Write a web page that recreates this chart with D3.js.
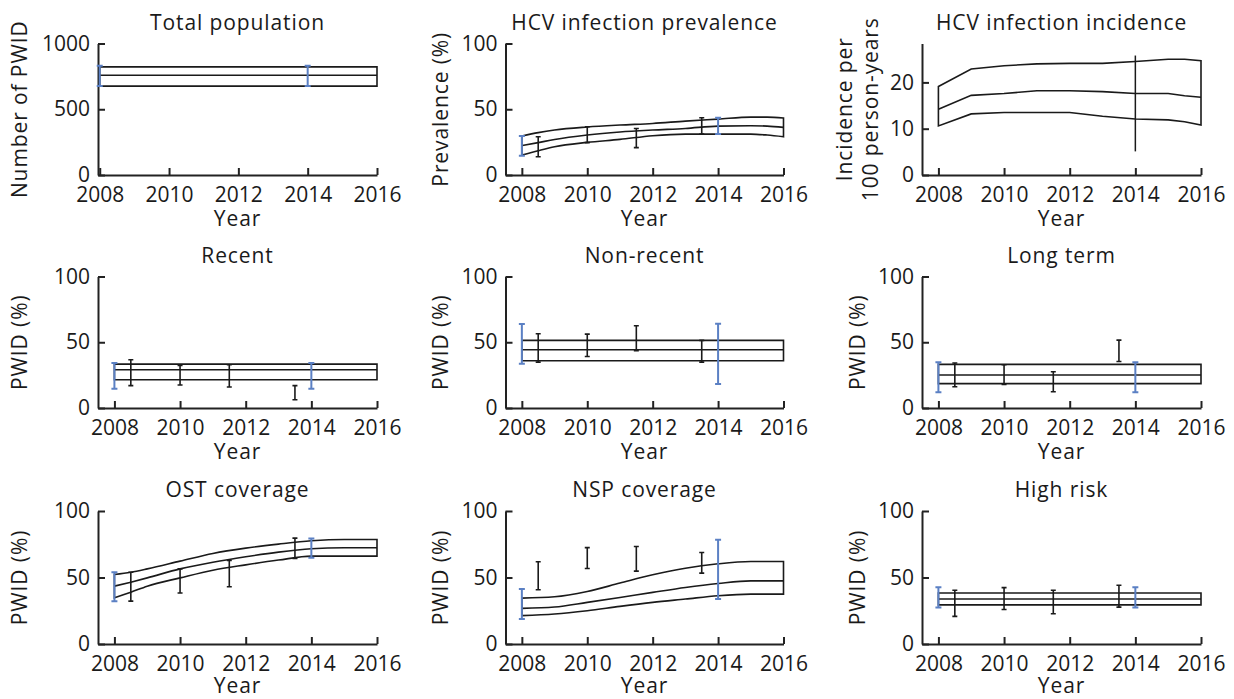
<!DOCTYPE html>
<html>
<head>
<meta charset="utf-8">
<script src="https://cdn.jsdelivr.net/npm/d3@7"></script>
<style>
  body { margin: 0; background: #fff; }
  svg text { font-family: "Open Sans", "Noto Sans", sans-serif; fill: #1a1a1a; }
  .axis path, .axis line { stroke: #222; stroke-width: 2px; }
  .axis text { font-size: 21px; }
  .label { font-size: 21px; letter-spacing: 0.9px; }
</style>
</head>
<body>
<svg id="chart" width="1234" height="699"></svg>
<script>
// tick labels
var tickYears = [2008, 2010, 2012, 2014, 2016];
var pctTicks = [0, 50, 100];

// titles / axis labels, one per panel
var titles = ['Total population', 'HCV infection prevalence', 'HCV infection incidence',
  'Recent', 'Non-recent', 'Long term', 'OST coverage', 'NSP coverage', 'High risk'];
var yLabels = [['Number of PWID'], ['Prevalence (%)'], ['Incidence per', '100 person-years'],
  ['PWID (%)'], ['PWID (%)'], ['PWID (%)'], ['PWID (%)'], ['PWID (%)'], ['PWID (%)']];

// years where the black data points and the blue calibration points sit
var obsYears = [2008.5, 2010, 2011.5, 2013.5];
var fitYears = [2008, 2014];
var flatYears = [2008, 2016];

// Total population
var popLow = [676, 676], popMid = [759, 759], popHigh = [822, 822];
var popFitLow = [676, 676], popFitHigh = [830, 830];

// HCV prevalence
var prevYears = [2008, 2008.5, 2009, 2010, 2011, 2012, 2013, 2014, 2015, 2015.5, 2016];
var prevHigh = [29.6, 32.2, 34.2, 36.5, 38, 39.2, 41, 42.5, 44, 44, 43.3];
var prevMid = [22.3, 24.6, 27, 30.4, 32.7, 34.2, 35.4, 37.2, 37.5, 37.2, 36.2];
var prevLow = [15.2, 18.5, 21.5, 24.8, 27.1, 29.9, 31.1, 31.1, 31.1, 30.4, 29.1];
var prevObsLow = [13.9, 24.6, 20.8, 31.1], prevObsHigh = [29.1, 36.7, 35.4, 43.5];
var prevFitLow = [14.7, 31.1], prevFitHigh = [29.6, 43.5];

// HCV incidence
var incYears = [2008, 2009, 2010, 2011, 2012, 2013, 2014, 2015, 2015.5, 2016];
var incHigh = [19.1, 22.9, 23.6, 24, 24.1, 24.1, 24.5, 25, 25, 24.7];
var incMid = [14.2, 17.2, 17.6, 18.2, 18.2, 18, 17.6, 17.6, 17.1, 16.8];
var incLow = [10.6, 13.2, 13.5, 13.5, 13.5, 12.7, 12.1, 11.9, 11.5, 10.8];
var incRangeYears = [2014], incRangeLow = [5.1], incRangeHigh = [25.8];

// Recent
var recLow = [21.5, 21.5], recMid = [29.1, 29.1], recHigh = [33.4, 33.4];
var recObsLow = [17, 17.5, 16, 6.3], recObsHigh = [36.7, 32.4, 32.9, 17];
var recFitLow = [14.7, 14.7], recFitHigh = [34.2, 34.2];

// Non-recent
var nonLow = [35.9, 35.9], nonMid = [44.3, 44.3], nonHigh = [51.4, 51.4];
var nonObsLow = [34.9, 39.2, 43.5, 34.9], nonObsHigh = [56.5, 56.2, 62.5, 51.4];
var nonFitLow = [33.7, 18.2], nonFitHigh = [63.8, 64];

// Long term
var ltLow = [18.5, 18.5], ltMid = [25.1, 25.1], ltHigh = [33.2, 33.2];
var ltObsLow = [16.2, 18, 12.4, 35.4], ltObsHigh = [34.2, 32.9, 27.6, 51.6];
var ltFitLow = [11.9, 11.9], ltFitHigh = [34.7, 34.7];

// OST coverage
var ostYears = [2008, 2008.5, 2009, 2010, 2011, 2012, 2013, 2014, 2015, 2016];
var ostHigh = [52.3, 54, 56.5, 62.3, 68.1, 72.1, 75.1, 77.6, 78.6, 78.6];
var ostMid = [43.5, 46.5, 49.7, 56.5, 61.5, 65.6, 69.1, 71.6, 72.4, 72.4];
var ostLow = [34.7, 38.9, 43.5, 49.7, 55.5, 59.5, 63.1, 66.1, 66.1, 66.1];
var ostObsLow = [32.2, 38.4, 43, 64.3], ostObsHigh = [54, 56.5, 62.8, 79.6];
var ostFitLow = [32.2, 64.8], ostFitHigh = [54, 79.4];

// NSP coverage
var nspYears = [2008, 2009, 2010, 2011, 2012, 2013, 2014, 2015, 2016];
var nspHigh = [34.5, 35.5, 39.5, 45.8, 52, 57, 60.3, 62, 62];
var nspMid = [26.8, 27.8, 31.3, 35, 38.8, 42.5, 45.5, 47.5, 47.5];
var nspLow = [21.3, 22.5, 25, 28.3, 31.3, 33.8, 36.3, 37.5, 37.5];
var nspObsLow = [40.8, 56.8, 54.8, 53.3], nspObsHigh = [61.8, 72.5, 73.3, 68.8];
var nspFitLow = [18.8, 33.8], nspFitHigh = [41.3, 78.3];

// High risk
var hrLow = [29.4, 29.4], hrMid = [33.8, 33.8], hrHigh = [38.3, 38.3];
var hrObsLow = [20.8, 25.9, 22.8, 27.7], hrObsHigh = [40.4, 42.4, 40.4, 44.2];
var hrFitLow = [27.4, 27.4], hrFitHigh = [42.6, 42.6];

(function(){
  'use strict';

  var svg = d3.select('#chart');

  // plot boxes, pixel layout of the 3x3 grid
  var cols = [[98, 377], [505.5, 783.5], [922, 1201]],
      rows = [[43.5, 175], [276.5, 408], [511, 644]],
      labelX = [19, 440, 857],
      yearDy = [51, 51, 49]; // last row sits on the page edge

  function band(years, low, mid, high) {
    return years.map(function(yr, i){ return {x: yr, lo: low[i], mid: mid[i], hi: high[i]}; });
  }
  function bars(years, low, high) {
    return years.map(function(yr, i){ return {x: yr, lo: low[i], hi: high[i]}; });
  }

  var panels = [
    {xStart: 2007.95, yDomain: [0, 1000], yTicks: [0, 500, 1000],
      band: band(flatYears, popLow, popMid, popHigh), obs: [], fit: bars(fitYears, popFitLow, popFitHigh)},
    {xStart: 2007.5, yDomain: [0, 100], yTicks: pctTicks,
      band: band(prevYears, prevLow, prevMid, prevHigh), obs: bars(obsYears, prevObsLow, prevObsHigh),
      fit: bars(fitYears, prevFitLow, prevFitHigh)},
    {xStart: 2007.5, yDomain: [0, 28.4], yTicks: [0, 10, 20], linear: true,
      band: band(incYears, incLow, incMid, incHigh), obs: [], fit: [],
      range: bars(incRangeYears, incRangeLow, incRangeHigh)},
    {xStart: 2007.5, yDomain: [0, 100], yTicks: pctTicks,
      band: band(flatYears, recLow, recMid, recHigh), obs: bars(obsYears, recObsLow, recObsHigh),
      fit: bars(fitYears, recFitLow, recFitHigh)},
    {xStart: 2007.5, yDomain: [0, 100], yTicks: pctTicks,
      band: band(flatYears, nonLow, nonMid, nonHigh), obs: bars(obsYears, nonObsLow, nonObsHigh),
      fit: bars(fitYears, nonFitLow, nonFitHigh)},
    {xStart: 2007.5, yDomain: [0, 100], yTicks: pctTicks,
      band: band(flatYears, ltLow, ltMid, ltHigh), obs: bars(obsYears, ltObsLow, ltObsHigh),
      fit: bars(fitYears, ltFitLow, ltFitHigh)},
    {xStart: 2007.5, yDomain: [0, 100], yTicks: pctTicks,
      band: band(ostYears, ostLow, ostMid, ostHigh), obs: bars(obsYears, ostObsLow, ostObsHigh),
      fit: bars(fitYears, ostFitLow, ostFitHigh)},
    {xStart: 2007.5, yDomain: [0, 100], yTicks: pctTicks,
      band: band(nspYears, nspLow, nspMid, nspHigh), obs: bars(obsYears, nspObsLow, nspObsHigh),
      fit: bars(fitYears, nspFitLow, nspFitHigh)},
    {xStart: 2007.5, yDomain: [0, 100], yTicks: pctTicks,
      band: band(flatYears, hrLow, hrMid, hrHigh), obs: bars(obsYears, hrObsLow, hrObsHigh),
      fit: bars(fitYears, hrFitLow, hrFitHigh)}
  ];

  function errorBars(g, data, x, y, color, width, cap) {
    var e = g.append('g')
        .attr('stroke', color)
        .attr('stroke-width', width)
        .attr('fill', 'none');
    e.selectAll('path')
      .data(data)
      .enter()
      .append('path')
      .attr('d', function(d){
        var cx = x(d.x), t = y(d.hi), b = y(d.lo);
        var p = 'M' + cx + ',' + t + 'V' + b;
        if (cap) p += 'M' + (cx - cap) + ',' + t + 'H' + (cx + cap) + 'M' + (cx - cap) + ',' + b + 'H' + (cx + cap);
        return p;
      });
  }

  panels.forEach(function(p, i){
    var c = i % 3, r = Math.floor(i / 3);
    var x = d3.scaleLinear().domain([p.xStart, 2016]).range(cols[c]);
    var y = d3.scaleLinear().domain(p.yDomain).range([rows[r][1], rows[r][0]]);
    var g = svg.append('g');

    // axes
    g.append('g')
      .attr('class', 'axis')
      .attr('transform', 'translate(0,' + rows[r][1] + ')')
      .call(d3.axisBottom(x).tickValues(tickYears).tickFormat(d3.format('d'))
        .tickSizeInner(-7).tickSizeOuter(0).tickPadding(12));

    g.append('g')
      .attr('class', 'axis')
      .attr('transform', 'translate(' + cols[c][0] + ',0)')
      .call(d3.axisLeft(y).tickValues(p.yTicks).tickFormat(d3.format('d'))
        .tickSizeInner(-7).tickSizeOuter(0).tickPadding(8));

    g.selectAll('.axis text').style('fill', '#1a1a1a');

    // titles
    var cx = (cols[c][0] + cols[c][1]) / 2;
    g.append('text')
      .attr('class', 'label')
      .attr('x', cx)
      .attr('y', rows[r][0] - 14)
      .attr('text-anchor', 'middle')
      .text(titles[i]);

    g.append('text')
      .attr('class', 'label')
      .attr('x', cx)
      .attr('y', rows[r][1] + yearDy[r])
      .attr('text-anchor', 'middle')
      .text('Year');

    var cy = (rows[r][0] + rows[r][1]) / 2;
    var lines = yLabels[i];
    lines.forEach(function(l, k){
      var lx = labelX[c] + (k - (lines.length - 1) / 2) * 26;
      g.append('text')
        .attr('class', 'label')
        .attr('transform', 'translate(' + lx + ',' + cy + ') rotate(-90)')
        .attr('text-anchor', 'middle')
        .attr('dominant-baseline', 'central')
        .text(l);
    });

    // model band (closed outline) and median
    var curve = p.linear ? d3.curveLinear : d3.curveMonotoneX;
    var area = d3.area()
      .curve(curve)
      .x(function(d){ return x(d.x); })
      .y0(function(d){ return y(d.lo); })
      .y1(function(d){ return y(d.hi); });
    var line = d3.line()
      .curve(curve)
      .x(function(d){ return x(d.x); })
      .y(function(d){ return y(d.mid); });

    g.append('path')
      .attr('d', area(p.band))
      .attr('fill', 'none')
      .attr('stroke', '#1a1a1a')
      .attr('stroke-width', 1.6);
    g.append('path')
      .attr('d', line(p.band))
      .attr('fill', 'none')
      .attr('stroke', '#1a1a1a')
      .attr('stroke-width', 1.6);

    if (p.range) errorBars(g, p.range, x, y, '#1a1a1a', 1.5, 0);
    errorBars(g, p.obs, x, y, '#1a1a1a', 1.6, 2.5);
    errorBars(g, p.fit, x, y, '#5b80c4', 2, 3);
  });
})();
</script>
</body>
</html>
